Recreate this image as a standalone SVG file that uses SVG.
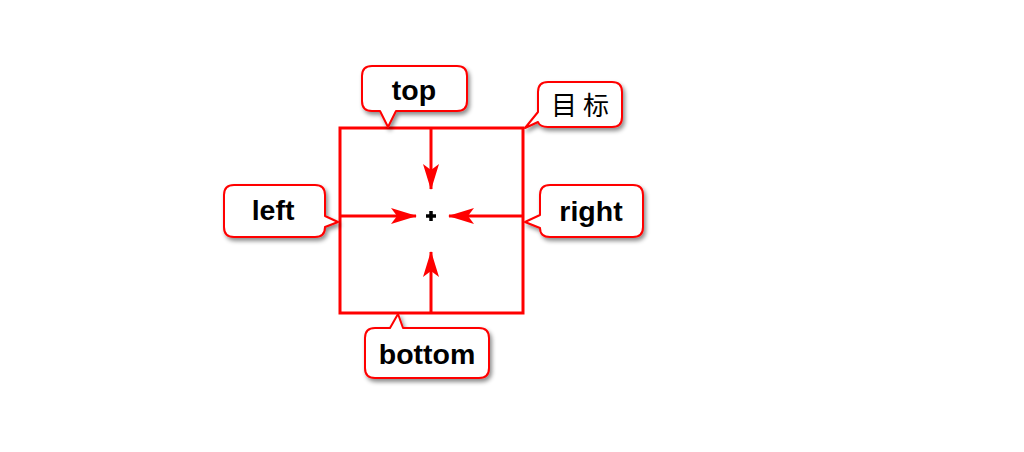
<svg xmlns="http://www.w3.org/2000/svg" width="1024" height="452" viewBox="0 0 1024 452">
<style>
.bub{fill:#fff;stroke:#f00;stroke-width:2;stroke-linejoin:round;filter:url(#sh)}
.lbl{font-family:"Liberation Sans",Arial,sans-serif;font-weight:bold;font-size:28.5px;fill:#000;text-anchor:middle}
.cjk{font-family:"Noto Sans CJK SC","Liberation Sans",sans-serif;font-size:26px;fill:#000;text-anchor:middle}
.ln{stroke:#f00;stroke-width:3;fill:none}
</style>
<defs>
<filter id="sh" x="-20%" y="-20%" width="150%" height="160%">
<feDropShadow dx="2" dy="3" stdDeviation="2" flood-color="#000" flood-opacity="0.45"/>
</filter>
<marker id="ah" viewBox="0 0 26 16" refX="25" refY="8" markerWidth="26" markerHeight="16" markerUnits="userSpaceOnUse" orient="auto">
<path d="M0,0 L26,8 L0,16 L6,8 Z" fill="#f00"/>
</marker>
</defs>
<rect width="1024" height="452" fill="#fff"/>
<g id="target">
<rect x="340" y="128" width="183" height="185" fill="none" stroke="#f00" stroke-width="3"/>
<path d="M426,216 H436 M431,211 V221" stroke="#000" stroke-width="3.5"/>
</g>
<g id="connectors">
<line class="ln" x1="431" y1="128" x2="431" y2="189" marker-end="url(#ah)"/>
<line class="ln" x1="340" y1="216" x2="416" y2="216" marker-end="url(#ah)"/>
<line class="ln" x1="523" y1="216" x2="449" y2="216" marker-end="url(#ah)"/>
<line class="ln" x1="431" y1="313" x2="431" y2="252" marker-end="url(#ah)"/>
</g>
<g id="top">
<path class="bub" d="M372,66 H457 Q467,66 467,76 V101 Q467,111 457,111 H396 L388,127 L380,111 H372 Q362,111 362,101 V76 Q362,66 372,66 Z"/>
<text class="lbl" x="414" y="100">top</text>
</g>
<g id="mubiao">
<path class="bub" d="M548,82 H612 Q622,82 622,92 V117 Q622,127 612,127 H548 Q540,127 538,122 L525,128 L538,112 V92 Q538,82 548,82 Z"/>
<text class="cjk" x="580" y="115">目 标</text>
</g>
<g id="left">
<path class="bub" d="M234,185 H315 Q325,185 325,195 V216 L338,222 L325,227 Q325,237 315,237 H234 Q224,237 224,227 V195 Q224,185 234,185 Z"/>
<text class="lbl" x="273" y="220">left</text>
</g>
<g id="right">
<path class="bub" d="M550,185 H633 Q643,185 643,195 V227 Q643,237 633,237 H550 Q540,237 540,228 L525,222 L540,215 V195 Q540,185 550,185 Z"/>
<text class="lbl" x="591" y="221">right</text>
</g>
<g id="bottom">
<path class="bub" d="M375,328 H390 L398,314 L403,328 H479 Q489,328 489,338 V368 Q489,378 479,378 H375 Q365,378 365,368 V338 Q365,328 375,328 Z"/>
<text class="lbl" x="427" y="364">bottom</text>
</g>
</svg>
